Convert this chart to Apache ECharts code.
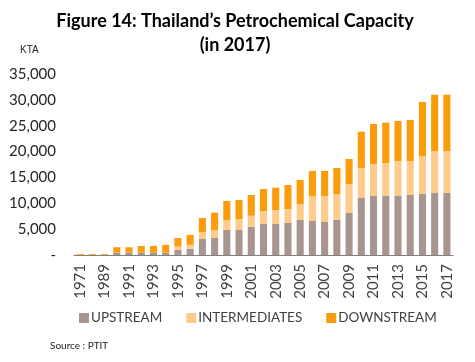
<!DOCTYPE html>
<html><head><meta charset="utf-8">
<script src="https://cdn.jsdelivr.net/npm/echarts@6/dist/echarts.min.js"></script>
<style>html,body{margin:0;padding:0;background:#fff}#c{width:475px;height:362px}</style>
</head><body><div id="c"></div>
<script>
const categories = ['1971','1988','1989','1990','1991','1992','1993','1994','1995','1996','1997','1998','1999','2000','2001','2002','2003','2004','2005','2006','2007','2008','2009','2010','2011','2012','2013','2014','2015','2016','2017'];
const upstream = [50,50,50,450,450,450,450,450,1000,1220,3090,3300,4835,4835,5480,6000,6000,6190,6770,6580,6380,6770,8120,11020,11410,11410,11410,11600,11800,11990,11990];
const intermediates = [0,0,0,0,0,0,0,0,620,750,1360,1530,1935,2125,2120,2510,2700,2710,3090,4830,5030,5030,5610,5810,6190,6380,6770,6580,7350,8120,8120];
const downstream = [150,150,150,1050,1050,1300,1300,1500,1670,1930,2700,3360,3670,3680,4000,4250,4320,4640,4640,4840,4840,5030,4840,7020,7740,7800,7740,7930,10440,10890,10890];
const yTicks = {min:0, max:35000, interval:5000};

const chart = echarts.init(document.getElementById('c'));
const font = 'Lato, "Open Sans", sans-serif';
chart.setOption({
  animation:false,
  title:{text:'Figure 14: Thailand\u2019s Petrochemical Capacity\n(in 2017)', left:230, textAlign:'center', top:4,
    textStyle:{fontSize:18, fontWeight:'bold', lineHeight:24, fontFamily:font, color:'#000'}},
  graphic:[
    {type:'text', left:20, top:45, style:{text:'KTA', fontSize:10, fontFamily:'"Liberation Sans", Arial', fill:'#222'}},
    {type:'text', left:50, top:341, style:{text:'Source : PTIT', fontSize:10, fontFamily:font, fill:'#222'}}
  ],
  legend:{left:74, top:306, itemWidth:10, itemHeight:10, icon:'rect', itemGap:24,
    textStyle:{fontSize:13.5, fontFamily:font, color:'#404040', padding:[0,0,0,-3]}},
  grid:{left:74, right:22, top:74, bottom:107},
  xAxis:{type:'category', data:categories,
    axisLine:{lineStyle:{color:'#808080'}}, axisTick:{show:false},
    axisLabel:{interval:1, rotate:90, fontSize:15, fontFamily:font, color:'#404040', margin:9}},
  yAxis:{type:'value', min:yTicks.min, max:yTicks.max, interval:yTicks.interval,
    splitLine:{show:false}, axisLine:{show:false}, axisTick:{show:false},
    axisLabel:{fontSize:15, fontFamily:font, color:'#262626', margin:18,
      formatter:v=> v===0 ? '-' : v.toLocaleString('en-US')}},
  series:[
    {name:'UPSTREAM', type:'bar', stack:'a', data:upstream, barCategoryGap:'42%', itemStyle:{color:'#a8958f'}},
    {name:'INTERMEDIATES', type:'bar', stack:'a', data:intermediates, itemStyle:{color:'#fecb8a'}},
    {name:'DOWNSTREAM', type:'bar', stack:'a', data:downstream, itemStyle:{color:'#fb9c0b'}}
  ]
});
</script></body></html>
